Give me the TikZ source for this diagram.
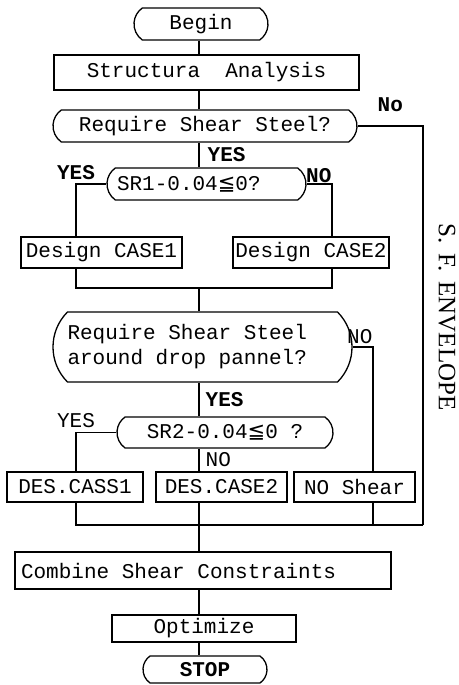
\documentclass[tikz,border=0pt]{standalone}
\usepackage{fontspec}
\setmonofont{Liberation Mono}
\newfontfamily\envfont{Liberation Serif}
\newfontfamily\symfont{DejaVu Sans}
\usetikzlibrary{shapes.misc}
\newcommand\boxsize{\fontsize{21}{25}\selectfont}

\begin{document}
\begin{tikzpicture}[x=1pt,y=-1pt,line width=1.3pt,
  box/.style={draw,inner sep=0pt,font=\ttfamily\boxsize},
  term/.style={box,rounded rectangle,rounded rectangle arc length=110},
  lbl/.style={font=\ttfamily\boxsize,inner sep=0pt},
  blbl/.style={lbl,font=\ttfamily\bfseries\boxsize}]
\useasboundingbox (0,0) rectangle (458,685);
% columns of the connectors
\coordinate (trunk) at (199,0);\coordinate (colA) at (76,0);\coordinate (colB) at (332,0);
\coordinate (colC) at (373,0);\coordinate (colR) at (423,0);
\coordinate (j1) at (199,288);\coordinate (j2) at (199,525);

\node[term,minimum width=134,minimum height=32] (begin) at (201,24) {Begin};
\node[box,minimum width=305,minimum height=35] (analysis) at (206.5,72.5) {Structura~~Analysis};
\node[term,minimum width=304,minimum height=32] (q1) at (205,126) {Require Shear Steel?};
\node[term,minimum width=199,minimum height=32,text width=179,align=left] (sr1) at (206.5,184) {SR1-0.04{\symfont ≦}0?};
\node[box,minimum width=161,minimum height=31] (d1) at (101.5,252.5) {Design CASE1};
\node[box,minimum width=156,minimum height=31] (d2) at (311,252.5) {Design CASE2};
\node[term,rounded rectangle arc length=90,minimum width=299,minimum height=70,text width=270,align=left] (q2) at (202.5,347) {\spaceskip=0pt Require Shear Steel\\around drop pannel?};
\node[term,minimum width=216,minimum height=31] (sr2) at (225,432.5) {SR2-0.04{\symfont ≦}0 ?};
\node[box,minimum width=136,minimum height=30] (c1) at (75,487) {DES.CASS1};
\node[box,minimum width=131,minimum height=30] (c2) at (221.5,487) {DES.CASE2};
\node[box,minimum width=121,minimum height=30] (c3) at (354.5,487) {NO Shear};
\node[box,minimum width=376,minimum height=37,text width=364,align=left] (combine) at (203,570.5) {\spaceskip=0pt Combine Shear Constraints};
\node[box,minimum width=184,minimum height=27] (opt) at (204,628.5) {Optimize};
\node[term,minimum width=124,minimum height=27,font=\ttfamily\bfseries\boxsize] (stop) at (205,669.5) {STOP};
\node[font=\envfont\fontsize{25}{30}\selectfont,rotate=-90] (env) at (447,317) {S.\hspace{10pt}F.\hspace{10pt}ENVELOPE};

\draw (begin.south -| trunk) -- (analysis.north -| trunk);
\draw (analysis.south -| trunk) -- (q1.north -| trunk);
\draw (q1.south -| trunk) -- node[blbl,anchor=west,xshift=8]{YES} (sr1.north -| trunk);
\draw (q1.east) -| node[blbl,pos=.25,anchor=south,yshift=14]{No} (colR |- j2);
\draw (sr1.west) -| node[blbl,pos=.5,anchor=south,yshift=4]{YES} (d1.north -| colA);
\draw (sr1.east) -| node[blbl,pos=.5,anchor=south east,yshift=1]{NO} (d2.north -| colB);
\draw (d1.south -| colA) -- (colA |- j1) -- (colB |- j1) -- (d2.south -| colB);
\draw (j1) -- (q2.north -| trunk);
\draw (q2.east) -| node[lbl,pos=.5,anchor=south east,yshift=3]{NO} (c3.north -| colC);
\draw (q2.south -| trunk) -- node[blbl,anchor=west,xshift=6]{YES} (sr2.north -| trunk);
\draw (sr2.west) -| node[lbl,pos=.5,anchor=south,yshift=4]{YES} (c1.north -| colA);
\draw (sr2.south -| trunk) -- node[lbl,anchor=west,xshift=6]{NO} (c2.north -| trunk);
\draw (c1.south -| colA) |- (colR |- j2);
\draw (c3.south -| colC) -- (colC |- j2);
\draw (c2.south -| trunk) -- (combine.north -| trunk);
\draw (combine.south -| trunk) -- (opt.north -| trunk);
\draw (opt.south -| trunk) -- (stop.north -| trunk);
\end{tikzpicture}
\end{document}
